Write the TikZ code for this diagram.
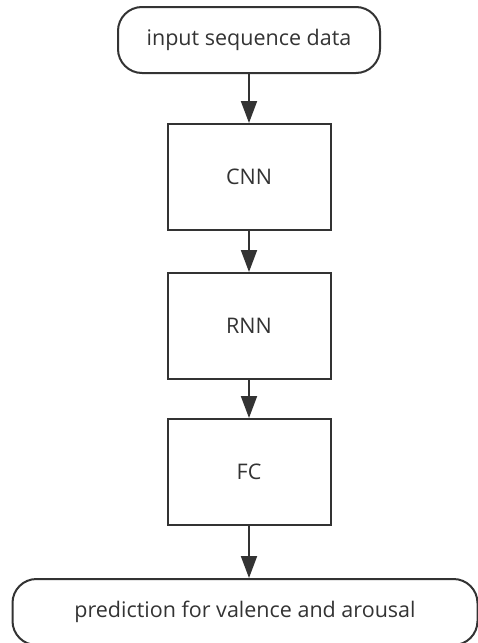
\documentclass[tikz,border=0pt]{standalone}
\usepackage{fontspec}
\setmainfont{Open Sans}
\usetikzlibrary{arrows.meta}
\definecolor{gris}{HTML}{333333}
\begin{document}
\begin{tikzpicture}[x=1pt, y=-1pt,  % un punto por pixel, eje y hacia abajo
    caja/.style={draw=gris, line width=2pt, text=gris, inner sep=0pt,
      font=\fontsize{21.5}{24}\selectfont},
    terminal/.style={caja, rounded corners=24pt, minimum height=66pt},
    bloque/.style={caja, minimum width=163pt, minimum height=106pt},
    flecha/.style={draw=gris, line width=2pt,
      -{Triangle[length=22pt,width=16pt]}}]
  \useasboundingbox (0,0) rectangle (478,643);

  % Entrada y salida
  \node[terminal, minimum width=262pt] (inp) at (249,40) {input sequence data};
  \node[terminal, minimum width=465pt] (out) at (245,612) {prediction for valence and arousal};

  % Bloques de la red
  \node[bloque] (cnn) at (249,177) {CNN};
  \node[bloque] (rnn) at (249,326) {RNN};
  \node[bloque] (fc)  at (249,472) {FC};

  % Flechas entre bloques
  \foreach \a/\b in {inp/cnn, cnn/rnn, rnn/fc} {
    \draw[flecha] (\a) -- (\b);
  }
  \draw[flecha] (fc) -- (fc |- out.north);
\end{tikzpicture}
\end{document}
